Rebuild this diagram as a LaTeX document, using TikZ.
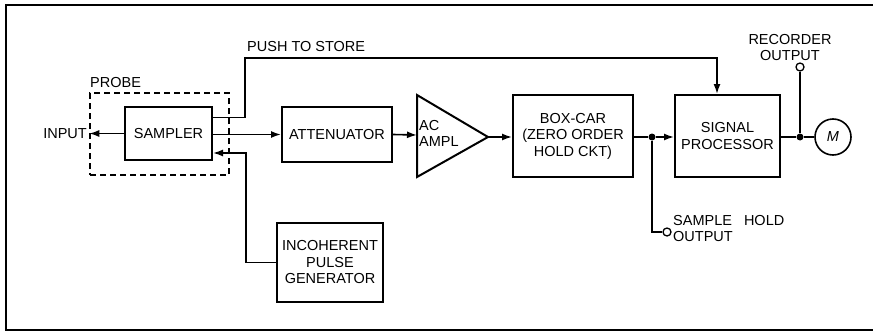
\documentclass[tikz,border=0pt]{standalone}
\usepackage{fontspec}
\setmainfont{Liberation Sans}
\usetikzlibrary{arrows.meta,calc}
\begin{document}
\begin{tikzpicture}[x=1pt,y=-1pt,
  every node/.style={font=\fontsize{14.5}{16.5}\selectfont, inner sep=0pt},
  blk/.style={draw, line width=2pt, minimum width=#1},
  conn/.style={line width=1.6pt},
  arr/.style={conn, -{Latex[length=10pt,width=7pt]}},
  lbl/.style={align=center},
  dot/.style={circle, fill, minimum size=7pt},
  term/.style={circle, draw, line width=1.3pt, minimum size=8pt, fill=white}]
\useasboundingbox (0,0) rectangle (873,332);
% frame (open on right)
\draw[line width=1.5pt] (880,5) -- (6,5) -- (6,330) -- (880,330);
% probe
\node[draw, line width=1.5pt, dash pattern=on 6pt off 4pt, minimum width=139pt, minimum height=82pt] (probe) at (159.5,134) {};
\node[anchor=west] (probelbl) at (90,83) {PROBE};
% blocks
\node[blk=87pt, minimum height=53pt] (sampler) at (168.5,133.5) {SAMPLER};
\node[blk=110pt, minimum height=55pt] (att) at (337,134.5) {ATTENUATOR};
\node[blk=120pt, minimum height=82pt, lbl] (boxcar) at (573,136) {BOX-CAR\\(ZERO ORDER\\HOLD CKT)};
\node[blk=105pt, minimum height=82pt, lbl] (sp) at (727.5,136) {SIGNAL\\PROCESSOR};
\node[blk=106pt, minimum height=79pt, lbl] (pulse) at (330,262.5) {INCOHERENT\\PULSE\\GENERATOR};
\node[circle, draw, line width=1.6pt, minimum size=36pt] (motor) at (833,137) {\itshape M};
% amplifier
\coordinate (ampin) at (417,135);
\coordinate (ampout) at (488,137);
\draw[line width=2pt, line join=miter] (417,95) -- (ampout) -- (417,177) -- cycle;
\node[anchor=north west, align=left] (amptxt) at (419,120) {AC\\AMPL};
% input
\node[anchor=east] (input) at (87,134) {INPUT};
\draw[arr] (sampler.west) -- (probe.west |- sampler.west);
% sampler -> attenuator -> amp -> boxcar
\draw[arr] (sampler.east |- att.west) -- (att.west);
\draw[arr] (att.east) -- (ampin);
\draw[arr] (ampout) -- (boxcar.west |- ampout);
% boxcar -> sp
\node[dot] (j1) at (652,137) {};
\draw[conn] (boxcar.east |- j1) -- (j1);
\draw[arr] (j1) -- (sp.west |- j1);
% push to store
\coordinate (pts) at (245,58);
\node[anchor=south west] (ptslbl) at (247,52) {PUSH TO STORE};
\draw[arr] ($(sampler.east)+(0,-16)$) -| (pts) -| (sp.north -| 717,0);
% pulse generator -> sampler
\draw[arr] (pulse.west) -| (246,153) -- (sampler.east |- 0,153);
% sample hold output
\node[term] (sho) at (667,232) {};
\draw[conn] (j1) |- (sho);
\node[anchor=north west, align=left] (shotxt) at (673,215) {SAMPLE\hspace{12pt}HOLD\\OUTPUT};
% recorder output
\node[dot] (j2) at (800,137) {};
\draw[conn] (sp.east |- j2) -- (j2) -- (motor.west);
\node[term] (rec) at (800,67) {};
\draw[conn] (j2) -- (rec);
\node[lbl, anchor=south] (rectxt) at (790,61) {RECORDER\\OUTPUT};
\end{tikzpicture}
\end{document}
